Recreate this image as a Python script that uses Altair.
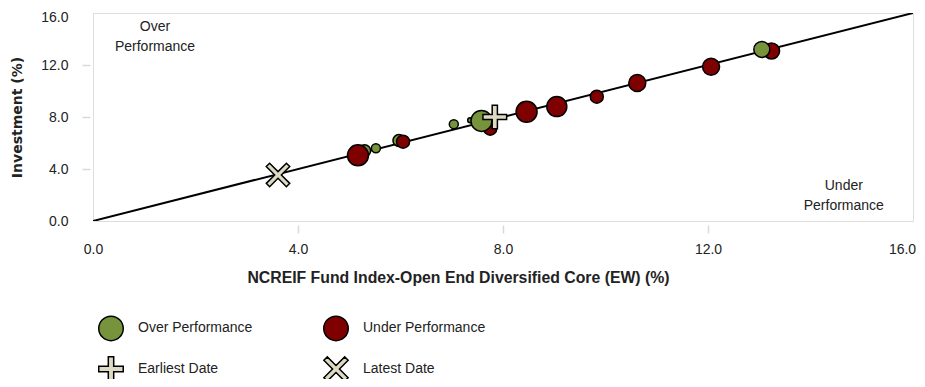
import math
import altair as alt
import pandas as pd

# ---------------- data ----------------
fund_x = [5.30, 5.17, 5.52, 5.97, 6.05, 7.04, 7.36, 7.75, 7.58, 8.46, 9.05, 9.83, 10.62, 12.06, 13.24, 13.05]
fund_y = [5.40, 5.05, 5.60, 6.20, 6.10, 7.45, 7.75, 7.10, 7.70, 8.40, 8.80, 9.56, 10.62, 11.87, 13.08, 13.20]
fund_group = ["Over Performance", "Under Performance", "Over Performance", "Over Performance",
              "Under Performance", "Over Performance", "Over Performance", "Under Performance",
              "Over Performance", "Under Performance", "Under Performance", "Under Performance",
              "Under Performance", "Under Performance", "Under Performance", "Over Performance"]
fund_weight = [12, 21, 9, 12, 13, 9, 5, 13, 21, 21, 20, 13, 17, 17, 16, 16]

marker_x = [7.84, 3.61]
marker_y = [8.00, 3.54]
marker_group = ["Earliest Date", "Latest Date"]

line_x = [0, 16]
line_y = [0, 16]

axis_ticks = [0, 4, 8, 12, 16]
# legend is laid out column by column: column 1 = Over / Earliest, column 2 = Under / Latest
legend_order = ["Over Performance", "Earliest Date", "Under Performance", "Latest Date"]

notes_text = ["Over\nPerformance", "Under\nPerformance"]
notes_x = [1.21, 14.65]
notes_y = [14.96, 2.72]

# ---------------- styles ----------------
GREEN = "#77933c"
RED = "#7f0000"
BEIGE = "#ddd9c3"
TEXT = "#222222"
FONT = "Liberation Sans"


def plus_path(w=0.22):
    pts = [(-1, -w), (-w, -w), (-w, -1), (w, -1), (w, -w), (1, -w),
           (1, w), (w, w), (w, 1), (-w, 1), (-w, w), (-1, w)]
    return "M" + " L".join(f"{a:.3f},{b:.3f}" for a, b in pts) + " Z"


def x_path(w=0.2, a=0.85):
    e = w / math.sqrt(2)
    d = w * math.sqrt(2)
    pts = [(0, -d), (a - e, -a - e), (a + e, -a + e), (d, 0), (a + e, a - e), (a - e, a + e),
           (0, d), (-a + e, a + e), (-a - e, a - e), (-d, 0), (-a - e, -a + e), (-a + e, -a - e)]
    return "M" + " L".join(f"{p:.3f},{q:.3f}" for p, q in pts) + " Z"


funds = pd.DataFrame({"x": fund_x, "y": fund_y, "group": fund_group, "weight": fund_weight})
markers = pd.DataFrame({"x": marker_x, "y": marker_y, "group": marker_group})
diag = pd.DataFrame({"x": line_x, "y": line_y})
notes = pd.DataFrame({"x": notes_x, "y": notes_y, "text": notes_text})

xscale = alt.Scale(domain=[0, 16], nice=False, zero=False)
yscale = alt.Scale(domain=[0, 16], nice=False, zero=False)

edge_tick_hidden = {"condition": {"test": "datum.value === 0 || datum.value === 16", "value": 0},
                    "value": 1}

x_axis = alt.Axis(values=axis_ticks, format=".1f", grid=False, domain=False, labelFlush=False,
                  tickColor="#d9d9d9", tickSize=8, tickWidth=1.5, offset=4,
                  tickOpacity=edge_tick_hidden,
                  labelFontSize=14, labelFont=FONT, labelColor=TEXT, labelPadding=9,
                  labelOffset={"condition": {"test": "datum.value === 16", "value": -11}, "value": 0},
                  title="NCREIF Fund Index-Open End Diversified Core (EW) (%)",
                  titleFont=FONT, titleFontSize=15.8, titleFontWeight="bold", titleColor=TEXT,
                  titleX=365, titleY=52, titleAlign="center", titleBaseline="middle")
y_axis = alt.Axis(values=axis_ticks, format=".1f", grid=False, domain=False, labelFlush=False,
                  tickColor="#d9d9d9", tickSize=8, tickWidth=1.5, offset=3,
                  tickOpacity=edge_tick_hidden,
                  labelFontSize=14, labelFont=FONT, labelColor=TEXT, labelPadding=14,
                  labelOffset={"condition": {"test": "datum.value === 16", "value": 4}, "value": 0},
                  title="Investment (%)", titleFont="DejaVu Sans", titleFontSize=14,
                  titleFontWeight="bold", titleColor=TEXT, titlePadding=16)

fill_scale = alt.Scale(domain=legend_order, range=[GREEN, BEIGE, RED, BEIGE])
shape_scale = alt.Scale(domain=legend_order, range=["circle", plus_path(), "circle", x_path()])
stroke_scale = alt.Scale(domain=legend_order, range=["black", "black", "black", "black"])
legend = alt.Legend(title=None, orient="none", legendX=5, legendY=302, columns=2,
                    columnPadding=67, rowPadding=9, symbolSize=600,
                    symbolStrokeWidth=1.5, symbolOpacity=1,
                    labelFont=FONT, labelFontSize=14, labelColor=TEXT, labelOffset=14,
                    padding=0, gridAlign="each")

line = alt.Chart(diag).mark_line(color="black", strokeWidth=2, clip=True).encode(
    x=alt.X("x:Q", scale=xscale, axis=x_axis),
    y=alt.Y("y:Q", scale=yscale, axis=y_axis),
)

points = alt.Chart(funds).mark_point(filled=True, strokeWidth=1.5, opacity=1).encode(
    x=alt.X("x:Q", scale=xscale),
    y=alt.Y("y:Q", scale=yscale),
    fill=alt.Fill("group:N", scale=fill_scale, legend=legend),
    shape=alt.Shape("group:N", scale=shape_scale, legend=legend),
    stroke=alt.Stroke("group:N", scale=stroke_scale, legend=legend),
    size=alt.Size("weight:Q", scale=alt.Scale(type="pow", exponent=2, domain=[0, 21], range=[0, 441]),
                  legend=None),
)

marks = alt.Chart(markers).mark_point(filled=True, strokeWidth=1.5, opacity=1, size=560).encode(
    x=alt.X("x:Q", scale=xscale),
    y=alt.Y("y:Q", scale=yscale),
    fill=alt.Fill("group:N", scale=fill_scale, legend=legend),
    shape=alt.Shape("group:N", scale=shape_scale, legend=legend),
    stroke=alt.Stroke("group:N", scale=stroke_scale, legend=legend),
)

texts = alt.Chart(notes).mark_text(font=FONT, fontSize=14, color=TEXT, lineBreak="\n",
                                   lineHeight=20.5, align="center", baseline="middle").encode(
    x=alt.X("x:Q", scale=xscale),
    y=alt.Y("y:Q", scale=yscale),
    text="text:N",
)

chart = alt.layer(line, points, marks, texts).properties(
    width=820, height=208,
    autosize=alt.AutoSizeParams(type="none"),
    padding={"left": 85, "top": 5, "right": 4, "bottom": 158},
).configure_view(stroke="#d9d9d9", strokeWidth=2).configure(background="white")

chart.save("out.html", embed_options={"renderer": "svg", "actions": False})
